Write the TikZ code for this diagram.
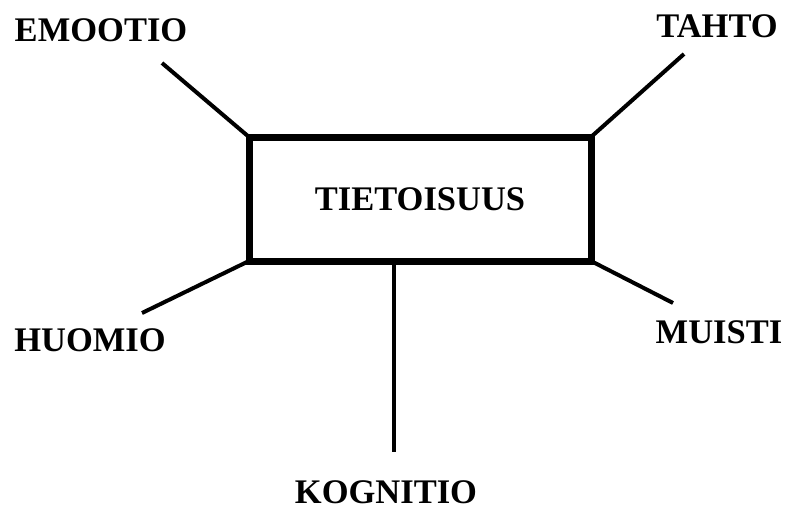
\documentclass[tikz,border=0pt]{standalone}
\usepackage{fontspec}
\setmainfont{Liberation Serif}
\usepackage{tikz}

\begin{document}
\begin{tikzpicture}[x=1pt, y=-1pt,
		lbl/.style={font=\fontsize{34.5}{40}\selectfont\bfseries, inner sep=0pt},
		mainbox/.style={draw, line width=7pt, minimum width=342pt, minimum height=124pt, outer sep=0pt, inner sep=0pt, font=\fontsize{34.5}{40}\selectfont\bfseries},
		spoke/.style={line width=4pt}]
					\useasboundingbox (0,0) rectangle (787,509);

					\node [mainbox] (tieto) at (420,199) {TIETOISUUS};

					\node [lbl] (emootio) at (101,30) {EMOOTIO};
					\node [lbl] (tahto) at (717,26) {TAHTO};
					\node [lbl] (huomio) at (90,340) {HUOMIO};
					\node [lbl] (muisti) at (719,332) {MUISTI};
					\node [lbl] (kognitio) at (386,492) {KOGNITIO};

					\coordinate (emootioend) at (162,63);
					\coordinate (tahtoend) at (684,54);
					\coordinate (huomioend) at (142,313);
					\coordinate (muistiend) at (673,303);
					\coordinate (kognitioend) at (394,452);
					\coordinate (tietobottom) at (394,261);

					\draw [spoke] (tieto.north west) -- (emootioend);
					\draw [spoke] (tieto.north east) -- (tahtoend);
					\draw [spoke] (tieto.south west) -- (huomioend);
					\draw [spoke] (tieto.south east) -- (muistiend);
					\draw [spoke] (tietobottom) -- (kognitioend);
				\end{tikzpicture}
\end{document}
